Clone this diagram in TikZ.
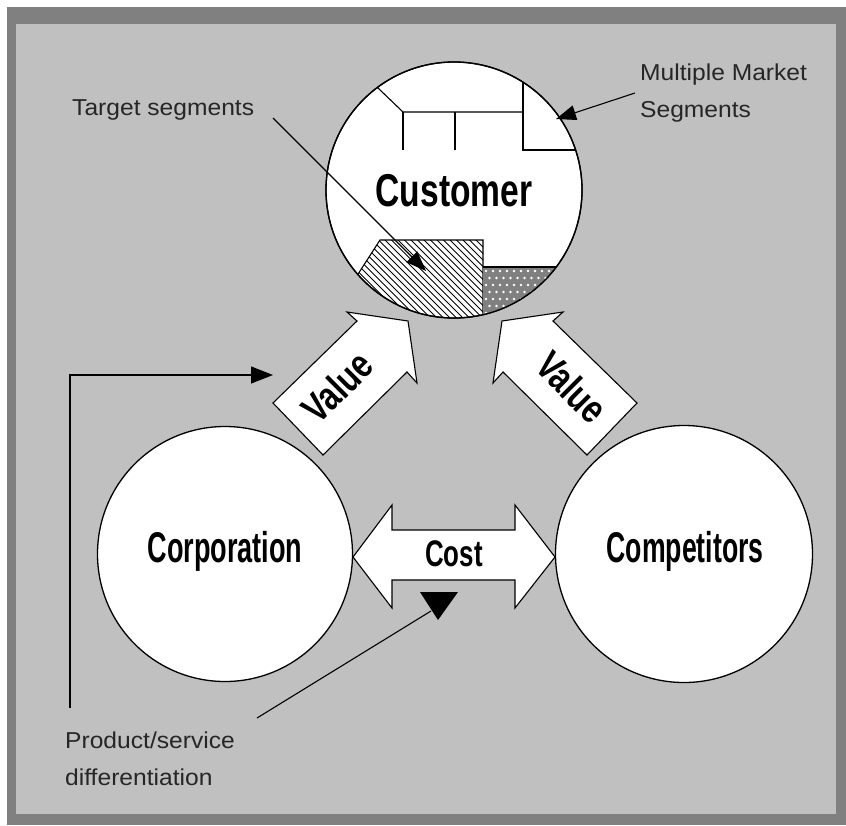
\documentclass[tikz,border=0pt]{standalone}
\usepackage{fontspec}
\setmainfont{Liberation Sans}[FakeStretch=1.07]
\newfontfamily\custfont{Liberation Sans}[FakeStretch=0.73]
\newfontfamily\corpfont{Liberation Sans}[FakeStretch=0.63]
\newfontfamily\compfont{Liberation Sans}[FakeStretch=0.62]
\newfontfamily\valfont{Liberation Sans}[FakeStretch=0.78]
\newfontfamily\costfont{Liberation Sans}[FakeStretch=0.7]
\usetikzlibrary{arrows.meta}
\definecolor{framegray}{HTML}{808080}
\definecolor{panelgray}{HTML}{C0C0C0}
\begin{document}
\begin{tikzpicture}[x=1pt,y=-1pt,
  lbl/.style={font=\fontsize{23}{23}\selectfont, inner sep=0pt, text=black!85},
  bigtxt/.style={inner sep=0pt},
  circ/.style={circle, draw=black, line width=1.3pt, fill=white, inner sep=0pt, minimum size=256pt},
  blk/.style={draw=black, line width=1.1pt, fill=white, line join=miter},
  con/.style={draw=black, line width=1.1pt},
  thin/.style={draw=black, line width=1.1pt}
]
\useasboundingbox (0,0) rectangle (846,825);
\fill[white] (0,0) rectangle (846,825);
\fill[framegray] (7,7) rectangle (846,825);
\fill[panelgray] (16,24) rectangle (836,814);

% circles
\node[circ] (cust) at (454,190) {};
\node[circ, minimum size=255pt] (corp) at (225,554) {};
\node[circ, minimum size=257pt] (comp) at (684,554) {};

% customer internals
\begin{scope}
  \clip (454,190) circle[radius=128];
  \begin{scope}
    \clip (380,240) -- (483,240) -- (483,340) -- (322,330) -- cycle;
    \foreach \k in {180,186.5,...,500} {
      \draw[line width=0.9pt] (\k,230) -- ({\k+120},350);
    }
  \end{scope}
  \draw[thin] (322,330) -- (380,240) -- (483,240) -- (483,340);
  \fill[framegray] (483,267) rectangle (600,340);
  \foreach \i in {0,...,16} {
    \foreach \j in {0,...,8} {
      \fill[white] ({486+\i*7+mod(\j,2)*3.5},{271+\j*7}) circle[radius=1.3];
    }
  }
  \draw[thin] (483,267) -- (600,267);
  \draw[thin] (353,64) -- (403,112) -- (523,112);
  \draw[thin] (403,112) -- (403,150);
  \draw[thin] (455,112) -- (455,150);
  \draw[thin] (523,50) -- (523,150) -- (600,150);
\end{scope}
\draw[line width=1.3pt] (cust.center) circle[radius=128];

% texts in circles
\node[bigtxt, anchor=base, font=\custfont\bfseries\fontsize{46}{46}\selectfont] (custlbl) at (454,206) {Customer};
\node[bigtxt, anchor=base, font=\corpfont\bfseries\fontsize{43}{43}\selectfont] (corplbl) at (225,562) {Corporation};
\node[bigtxt, anchor=base, font=\compfont\bfseries\fontsize{43}{43}\selectfont] (complbl) at (685,562) {Competitors};

% value arrows
\draw[blk] (408,321) -- (347,312) -- (357,321) -- (273,403) -- (323,455) -- (407,372) -- (417,383) -- cycle;
\draw[blk] (502,321) -- (563,312) -- (553,321) -- (637,403) -- (587,455) -- (503,372) -- (493,383) -- cycle;
\node[bigtxt, font=\valfont\bfseries\fontsize{40}{40}\selectfont, rotate=45] (val1) at (337,387) {Value};
\node[bigtxt, font=\valfont\bfseries\fontsize{40}{40}\selectfont, rotate=-45] (val2) at (572,387) {Value};

% cost arrow
\draw[blk] (353,557) -- (392,505) -- (392,530) -- (515,530) -- (515,505) -- (555,557)
  -- (515,608) -- (515,580) -- (392,580) -- (392,608) -- cycle;
\node[bigtxt, anchor=base, font=\costfont\bfseries\fontsize{37}{37}\selectfont] (cost) at (454,566) {Cost};

% differentiation marker
\fill[black] (420,592) -- (458,592) -- (438,620) -- cycle;
\coordinate (mark) at (431,611);

% labels
\node[lbl, anchor=base west] (target) at (72,115) {Target segments};
\node[lbl, anchor=base west] (mult1) at (640,80) {Multiple Market};
\node[lbl, anchor=base west] (mult2) at (640,117) {Segments};
\node[lbl, anchor=base west] (prod1) at (65,748) {Product/service};
\node[lbl, anchor=base west] (prod2) at (65,785) {differentiation};

% connectors
\coordinate (tstart) at (273,118);
\coordinate (tend) at (426,271);
\draw[con, -{Triangle[length=20pt,width=15pt]}] (tstart) -- (tend);
\coordinate (mstart) at (635,93);
\coordinate (mend) at (556,119);
\draw[con, -{Triangle[length=20pt,width=15pt]}] (mstart) -- (mend);
\coordinate (bstart) at (70,708);
\coordinate (bend) at (273,375);
\draw[con, -{Triangle[length=22pt,width=17pt]}] (bstart) |- (bend);
\coordinate (pstart) at (257,718);
\draw[con] (pstart) -- (mark);
\end{tikzpicture}
\end{document}
